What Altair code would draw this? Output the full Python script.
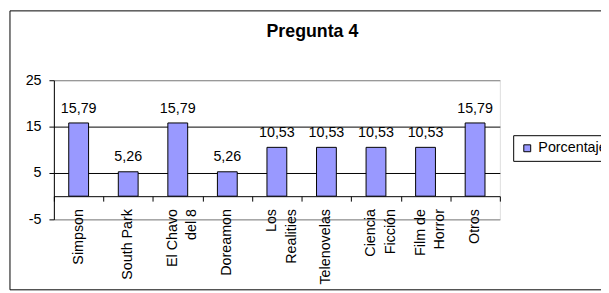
import altair as alt
import pandas as pd

# ---- data ----
categories = ["Simpson", "South Park", "El Chavo\ndel 8", "Doreamon", "Los\nRealities",
              "Telenovelas", "Ciencia\nFicción", "Film de\nHorror", "Otros"]
values = [15.79, 5.26, 15.79, 5.26, 10.53, 10.53, 10.53, 10.53, 15.79]
series_name = "Porcentaje"
y_ticks = [-5, 5, 15, 25]
chart_title = "Pregunta 4"

df = pd.DataFrame({"cat": categories, "v": values, "serie": [series_name] * len(categories)})
df["multi"] = df["cat"].str.contains("\n")

FONT = "Liberation Sans"
FS = 14.5
W, H = 452, 141

x_enc = alt.X(
    "cat:N", sort=None,
    scale=alt.Scale(paddingInner=0, paddingOuter=0),
    axis=alt.Axis(
        title=None, orient="bottom", offset=-23.5,
        domainColor="black", domainWidth=1,
        tickColor="black", tickSize=5, tickBand="extent",
        labels=False, grid=False,
    ),
)
y_enc = alt.Y(
    "v:Q",
    scale=alt.Scale(domain=[-5, 25], nice=False, zero=True),
    axis=alt.Axis(
        title=None, values=y_ticks, labelExpr="datum.value + ''",
        domainColor="black", tickColor="black", tickSize=5, labelPadding=8,
        labelFont=FONT, labelFontSize=FS, labelColor="black",
        grid=True,
        gridColor={"condition": {"test": "datum.value == 5 || datum.value == 15", "value": "black"},
                   "value": "#808080"},
    ),
)

border = alt.Chart(pd.DataFrame({"k": [0]})).mark_rect(
    filled=False, stroke="black", strokeWidth=1
).encode(
    x=alt.value(-44.5), x2=alt.value(600), y=alt.value(-70.3), y2=alt.value(212.4)
)

bars = alt.Chart(df).mark_bar(
    width={"band": 0.4}, stroke="black", strokeWidth=1
).encode(
    x=x_enc, y=y_enc,
    color=alt.Color(
        "serie:N", scale=alt.Scale(range=["#9999FF"]),
        legend=alt.Legend(
            title=None, orient="none", legendX=465.5, legendY=55.7, padding=6,
            strokeColor="black", fillColor="white",
            symbolType="square", symbolSize=49, symbolStrokeColor="black",
            symbolStrokeWidth=1, symbolOffset=1, labelOffset=4,
            labelFont=FONT, labelFontSize=FS, labelColor="black", labelLimit=300,
        ),
    ),
)

values_text = alt.Chart(df).transform_calculate(
    lbl="replace(format(datum.v, '.2f'), '.', ',')"
).mark_text(
    dy=-10.5, baseline="alphabetic", align="center", font=FONT, fontSize=FS, color="black"
).encode(x=x_enc, y=y_enc, text="lbl:N")


def cat_labels(multi, shift):
    # rotated text: dx moves along the text (down the page), dy moves across it
    return alt.Chart(df).transform_filter(
        "datum.multi" if multi else "!datum.multi"
    ).mark_text(
        angle=270, align="right", baseline="middle", lineBreak="\n", lineHeight=20,
        font=FONT, fontSize=FS, color="black", dx=-13, dy=shift,
    ).encode(x=x_enc, y=alt.datum(0), text="cat:N")


chart = alt.layer(
    border, bars, values_text, cat_labels(False, 0), cat_labels(True, -5)
).properties(
    width=W, height=H,
    padding={"left": 46.5, "top": 71.3, "right": 102.5, "bottom": 72.7},
    autosize=alt.AutoSizeParams(type="none"),
    title=alt.TitleParams(
        chart_title, font=FONT, fontSize=18, fontWeight="bold", color="black",
        anchor="middle", frame="group", baseline="alphabetic", offset=0, dy=44.6, dx=36,
    ),
).configure_view(
    fill="#C0C0C0", stroke="#808080", strokeWidth=1
).configure(background="white")

chart.save("out.html", embed_options={"renderer": "svg", "actions": False})
